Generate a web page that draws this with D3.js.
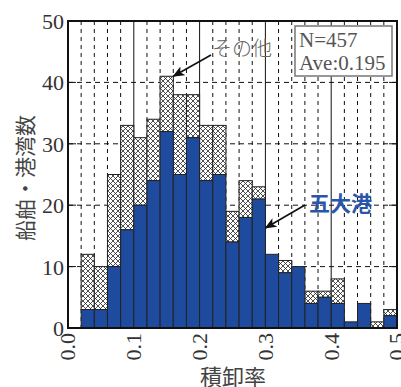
<!DOCTYPE html>
<html>
<head>
<meta charset="utf-8">
<script src="https://cdn.jsdelivr.net/npm/d3@7"></script>
<style>
  body { margin: 0; background: #fff; }
</style>
</head>
<body>
<script>
// histogram bins (left edge of each 0.02 bin)
const binStart = [0.02, 0.04, 0.06, 0.08, 0.10, 0.12, 0.14, 0.16, 0.18, 0.20, 0.22, 0.24,
                  0.26, 0.28, 0.30, 0.32, 0.34, 0.36, 0.38, 0.40, 0.42, 0.44, 0.46, 0.48];
const binWidth = 0.02;
// counts: 五大港 (blue) and その他 (hatched, stacked on top)
const gotaiko = [3, 3, 10, 16, 20, 24, 32, 25, 31, 24, 25, 14, 18, 21, 12, 9, 10, 4, 5, 4, 1, 4, 0, 2];
const sonota  = [9, 7, 15, 17, 11, 10, 9, 13, 7, 9, 8, 5, 6, 2, 0, 2, 0, 2, 1, 4, 0, 0, 1, 1];
const xTicks = [0, 0.1, 0.2, 0.3, 0.4, 0.5];
const yTicks = [0, 10, 20, 30, 40, 50];
const statLines = ["N=457", "Ave:0.195"];

const canvWidth = 401, canvHeight = 387;
const margin = {top: 21, right: 4, bottom: 59, left: 68};
const width = canvWidth - margin.left - margin.right;
const height = canvHeight - margin.top - margin.bottom;

const svg = d3.select("body").append("svg")
    .attr("width", canvWidth)
    .attr("height", canvHeight);

// cross hatch pattern
const defs = svg.append("defs");
const pat = defs.append("pattern")
    .attr("id", "hatch")
    .attr("patternUnits", "userSpaceOnUse")
    .attr("width", 5)
    .attr("height", 5);
pat.append("rect").attr("width", 5).attr("height", 5).attr("fill", "#fff");
pat.append("path")
    .attr("d", "M0,0L5,5M5,0L0,5M-1,4L1,6M4,-1L6,1M-1,1L1,-1M4,6L6,4")
    .attr("stroke", "#222")
    .attr("stroke-width", 0.8);

defs.append("marker")
    .attr("id", "arrow")
    .attr("viewBox", "0 0 12 10")
    .attr("refX", 11)
    .attr("refY", 5)
    .attr("markerWidth", 12)
    .attr("markerHeight", 10)
    .attr("markerUnits", "userSpaceOnUse")
    .attr("orient", "auto")
    .append("path")
    .attr("d", "M0,0L12,5L0,10L3,5Z")
    .attr("fill", "#111");

const g = svg.append("g")
    .attr("transform", "translate(" + margin.left + "," + margin.top + ")");

const xScale = d3.scaleLinear().domain([0, 0.5]).range([0, width]);
const yScale = d3.scaleLinear().domain([0, 50]).range([height, 0]);

// grid: dashed every 0.02 and every 10, solid at major x ticks
const minorX = d3.range(1, 25).map(i => i * binWidth).filter(v => Math.abs(v * 10 - Math.round(v * 10)) > 1e-6);
g.selectAll(".vminor").data(minorX).join("line")
    .attr("x1", d => xScale(d)).attr("x2", d => xScale(d))
    .attr("y1", 0).attr("y2", height)
    .attr("stroke", "#111").attr("stroke-width", 1)
    .attr("stroke-dasharray", "4,4");
g.selectAll(".hgrid").data(yTicks.slice(1, -1)).join("line")
    .attr("x1", 0).attr("x2", width)
    .attr("y1", d => yScale(d)).attr("y2", d => yScale(d))
    .attr("stroke", "#111").attr("stroke-width", 1)
    .attr("stroke-dasharray", "5,4");
g.selectAll(".vmajor").data(xTicks.slice(1, -1)).join("line")
    .attr("x1", d => xScale(d)).attr("x2", d => xScale(d))
    .attr("y1", 0).attr("y2", height)
    .attr("stroke", "#111").attr("stroke-width", 1);
// inward y ticks on both sides
yTicks.slice(1, -1).forEach(v => {
    g.append("line").attr("x1", 0).attr("x2", 8)
        .attr("y1", yScale(v)).attr("y2", yScale(v))
        .attr("stroke", "#111").attr("stroke-width", 1);
    g.append("line").attr("x1", width - 8).attr("x2", width)
        .attr("y1", yScale(v)).attr("y2", yScale(v))
        .attr("stroke", "#111").attr("stroke-width", 1);
});

// bars
const bins = binStart.map((x0, i) => ({x0: x0, blue: gotaiko[i], other: sonota[i]}));
g.selectAll(".other").data(bins.filter(d => d.other > 0)).join("rect")
    .attr("x", d => xScale(d.x0))
    .attr("width", xScale(binWidth) - xScale(0))
    .attr("y", d => yScale(d.blue + d.other))
    .attr("height", d => yScale(d.blue) - yScale(d.blue + d.other))
    .attr("fill", "url(#hatch)")
    .attr("stroke", "#222").attr("stroke-width", 1);
g.selectAll(".blue").data(bins.filter(d => d.blue > 0)).join("rect")
    .attr("x", d => xScale(d.x0))
    .attr("width", xScale(binWidth) - xScale(0))
    .attr("y", d => yScale(d.blue))
    .attr("height", d => yScale(0) - yScale(d.blue))
    .attr("fill", "#1f4b9f")
    .attr("stroke", "#222").attr("stroke-width", 1);

// frame
g.append("rect")
    .attr("width", width).attr("height", height)
    .attr("fill", "none").attr("stroke", "#111").attr("stroke-width", 2);

// tick labels
g.selectAll(".ylab").data(yTicks).join("text")
    .attr("x", -4).attr("y", d => yScale(d)).attr("dy", "0.36em")
    .attr("text-anchor", "end")
    .attr("font-family", "'Liberation Serif', serif").attr("font-size", 22)
    .attr("fill", "#333")
    .text(d => d);
g.selectAll(".xlab").data(xTicks).join("text")
    .attr("transform", d => "translate(" + xScale(d) + "," + (height + 5) + ") rotate(-90)")
    .attr("dy", "0.34em")
    .attr("text-anchor", "end")
    .attr("font-family", "'Liberation Serif', serif").attr("font-size", 22)
    .attr("fill", "#333")
    .text(d => d.toFixed(1));

// axis titles
svg.append("text")
    .attr("transform", "translate(33," + 178 + ") rotate(-90)")
    .attr("text-anchor", "middle")
    .attr("font-family", "'Noto Sans CJK JP', sans-serif").attr("font-size", 21)
    .attr("fill", "#444")
    .text("船舶・港湾数");
svg.append("text")
    .attr("x", 233).attr("y", 385)
    .attr("text-anchor", "middle")
    .attr("font-family", "'Noto Sans CJK JP', sans-serif").attr("font-size", 22)
    .attr("fill", "#444")
    .text("積卸率");

// stats box
const box = g.append("g").attr("transform", "translate(" + (width - 102) + ",5)");
box.append("rect")
    .attr("width", 97).attr("height", 50)
    .attr("fill", "#fff").attr("stroke", "#777").attr("stroke-width", 1.5);
box.selectAll("text").data(statLines).join("text")
    .attr("x", 4).attr("y", (d, i) => 21 + i * 23)
    .attr("font-family", "'Liberation Serif', serif").attr("font-size", 21)
    .attr("fill", "#555")
    .text(d => d);

// annotations
const peak = bins[6];
svg.append("line")
    .attr("x1", 211).attr("y1", 55)
    .attr("x2", margin.left + xScale(peak.x0 + binWidth)).attr("y2", margin.top + yScale(peak.blue + peak.other))
    .attr("stroke", "#111").attr("stroke-width", 1.6)
    .attr("marker-end", "url(#arrow)");
svg.append("text")
    .attr("x", 212).attr("y", 56)
    .attr("font-family", "'Noto Sans CJK JP', sans-serif").attr("font-size", 20)
    .attr("font-weight", 300)
    .attr("fill", "#666")
    .text("その他");

const b14 = bins[13];
svg.append("line")
    .attr("x1", 305).attr("y1", 205)
    .attr("x2", margin.left + xScale(b14.x0 + binWidth)).attr("y2", 228)
    .attr("stroke", "#111").attr("stroke-width", 1.6)
    .attr("marker-end", "url(#arrow)");
svg.append("text")
    .attr("x", 309).attr("y", 211)
    .attr("font-family", "'Noto Sans CJK JP', sans-serif").attr("font-size", 21)
    .attr("font-weight", "bold")
    .attr("fill", "#2a56a8")
    .text("五大港");
</script>
</body>
</html>
